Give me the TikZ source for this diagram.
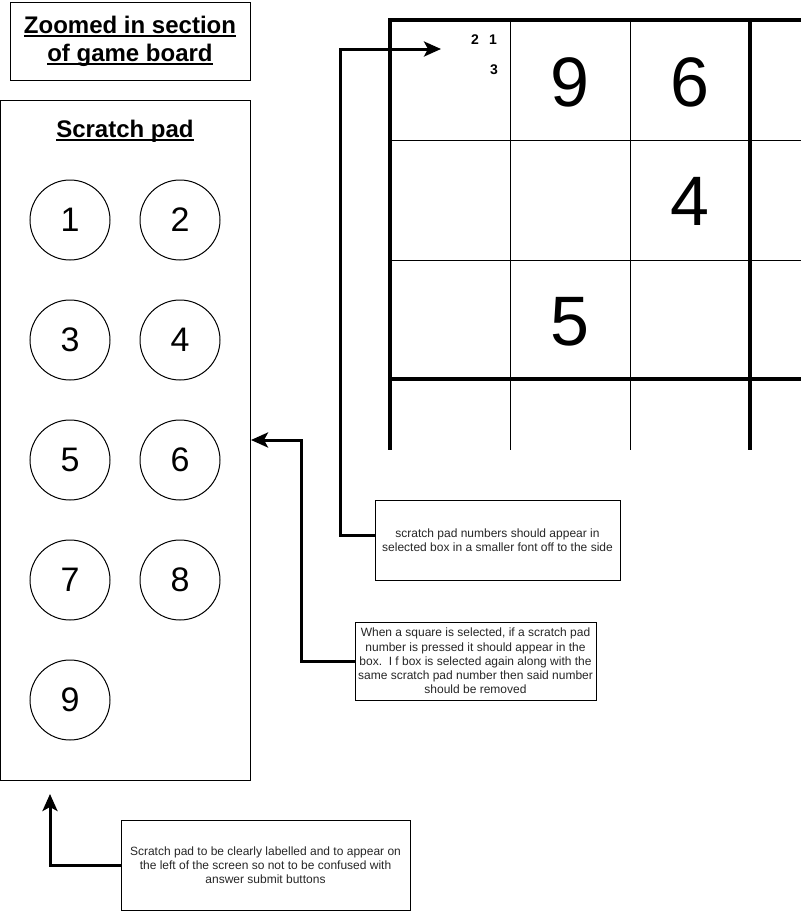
\documentclass[tikz,border=0pt]{standalone}
\usepackage{fontspec}
\setmainfont{Liberation Sans}
\usepackage{tikz}
\usetikzlibrary{calc}
\usetikzlibrary{arrows.meta}
\usetikzlibrary{positioning}
\newcommand{\uln}[1]{\setbox0=\hbox{#1}\rlap{\copy0}\rule[-3.5pt]{\wd0}{2pt}}
\tikzset{padnum/.style={circle,draw=black,line width=1pt,minimum size=80pt,inner sep=0pt,font=\fontsize{34}{40}\selectfont}}
\tikzset{note/.style={rectangle,draw=black,line width=1pt,align=center,inner sep=0pt,text=black!85,font=\fontsize{12}{14.2}\selectfont}}
\tikzset{heading/.style={align=center,font=\fontsize{24}{28}\selectfont\bfseries}}
\tikzset{bignum/.style={inner sep=0pt,font=\fontsize{70}{84}\selectfont}}
\tikzset{smallnum/.style={inner sep=0pt,font=\fontsize{14}{16}\selectfont\bfseries}}
\tikzset{pointer/.style={line width=3pt,-{Stealth[length=17pt,width=15pt,inset=4pt]}}}
\tikzset{thickgrid/.style={line width=3.5pt}}
\tikzset{thingrid/.style={line width=1pt}}

\begin{document}
\begin{tikzpicture}[x=1pt,y=-1pt]
\useasboundingbox (0,0) rectangle (804,911);

\node[draw,line width=1pt,minimum width=240pt,minimum height=78pt,heading] (title) at (130,41) {\uln{Zoomed in section}\\\uln{of game board}};

\node[draw,line width=1pt,minimum width=250pt,minimum height=680pt] (pad) at (125,440) {};
\node[heading] (padtitle) at (125,131) {\uln{Scratch pad}};

\foreach \i / \x / \y in {1/70/220,2/180/220,3/70/340,4/180/340,5/70/460,6/180/460,7/70/580,8/180/580,9/70/700}
{
	\node[padnum] (p\i) at (\x,\y) {\i};
}

% board
\draw[thingrid] (510,20) -- (510,450);
\draw[thingrid] (630,20) -- (630,450);
\draw[thingrid] (390,140) -- (801,140);
\draw[thingrid] (390,260) -- (801,260);
\draw[thickgrid] (390,18) -- (390,450);
\draw[thickgrid] (750,18) -- (750,450);
\draw[thickgrid] (390,20) -- (801,20);
\draw[thickgrid] (390,379) -- (801,379);

\node[bignum] (cellA) at (570,82) {9};
\node[bignum] (cellB) at (690,82) {6};
\node[bignum] (cellC) at (690,201) {4};
\node[bignum] (cellD) at (570,322) {5};

\node[smallnum] (s2) at (475,40) {2};
\node[smallnum] (s1) at (493,40) {1};
\node[smallnum] (s3) at (494,70) {3};

% notes
\node[note,minimum width=245pt,minimum height=80pt] (noteA) at (497.5,540) {scratch pad numbers should appear in\\selected box in a smaller font off to the side};
\node[note,minimum width=241pt,minimum height=78pt] (noteB) at (475.5,661) {When a square is selected, if a scratch pad\\number is pressed it should appear in the\\box.\ \ I f box is selected again along with the\\same scratch pad number then said number\\should be removed};
\node[note,minimum width=289pt,minimum height=90pt] (noteC) at (265.5,865) {Scratch pad to be clearly labelled and to appear on\\the left of the screen so not to be confused with\\answer submit buttons};

\coordinate (tipA) at (441,49);
\coordinate (tipB) at (251,440);
\coordinate (tipC) at (50,794);

\draw[pointer] ([yshift=5pt]noteA.west) -- ++(-34,0) |- (tipA);
\draw[pointer] (noteB.west) -- ++(-53,0) |- (tipB);
\draw[pointer] (noteC.west) -| (tipC);

\end{tikzpicture}
\end{document}
